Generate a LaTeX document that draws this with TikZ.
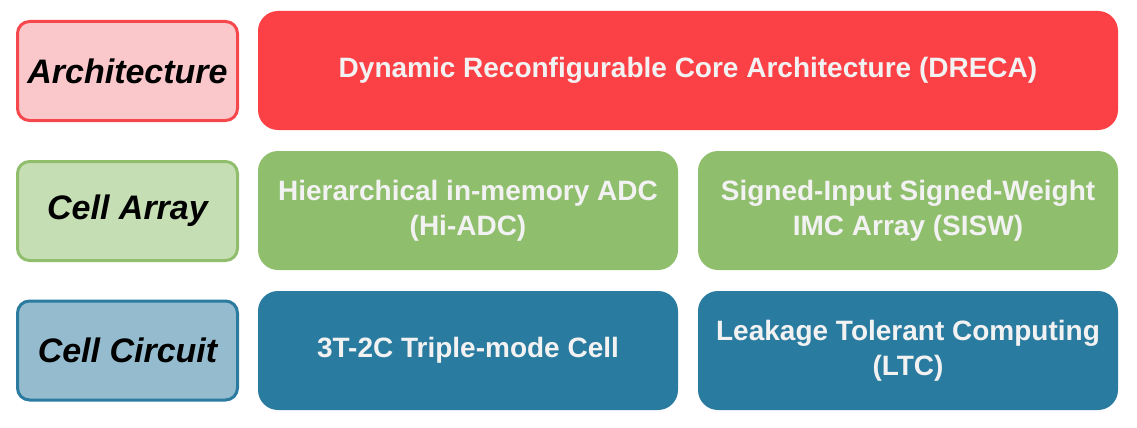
\documentclass[tikz,border=0pt]{standalone}
\usepackage{fontspec}
\setmainfont{Liberation Sans}
\definecolor{redD}{HTML}{FC4146}
\definecolor{redL}{HTML}{FAC8CA}
\definecolor{redB}{HTML}{F5474C}
\definecolor{grnD}{HTML}{8FBE6C}
\definecolor{grnL}{HTML}{C6DEB4}
\definecolor{grnB}{HTML}{90BE6D}
\definecolor{bluD}{HTML}{2A7BA0}
\definecolor{bluL}{HTML}{94BCCE}
\definecolor{bluB}{HTML}{2B7BA0}
\definecolor{txtL}{HTML}{F2F2F2}
\begin{document}
\begin{tikzpicture}[x=1pt,y=-1pt,
  levelbox/.style={draw, line width=3pt, rounded corners=12pt, minimum width=220pt, minimum height=99pt, inner sep=0pt,
    font=\fontsize{34}{40}\selectfont\bfseries\itshape, text=black, anchor=center},
  itembox/.style={rounded corners=20pt, minimum height=119pt, inner sep=0pt, text=txtL,
    font=\fontsize{28}{35}\selectfont\bfseries, align=center, anchor=center}]
\useasboundingbox (0,0) rectangle (1137,428);
% left level boxes
\node[levelbox, draw=redB, fill=redL] (arch) at (127.5,71) {Architecture};
\node[levelbox, draw=grnB, fill=grnL] (array) at (127.5,211) {Cell Array};
\node[levelbox, draw=bluB, fill=bluL] (circ) at (127.5,350.5) {Cell Circuit};
% right boxes
\node[itembox, fill=redD, minimum width=860pt] (dreca) at (688,70.5) {Dynamic Reconfigurable Core Architecture (DRECA)};
\node[itembox, fill=grnD, minimum width=420pt] (hiadc) at (468,210.5) {Hierarchical in-memory ADC\\(Hi-ADC)};
\node[itembox, fill=grnD, minimum width=420pt] (sisw) at (908,210.5) {Signed-Input Signed-Weight\\IMC Array (SISW)};
\node[itembox, fill=bluD, minimum width=420pt] (cell) at (468,350.5) {3T-2C Triple-mode Cell};
\node[itembox, fill=bluD, minimum width=420pt] (ltc) at (908,350.5) {Leakage Tolerant Computing\\(LTC)};
\end{tikzpicture}
\end{document}
